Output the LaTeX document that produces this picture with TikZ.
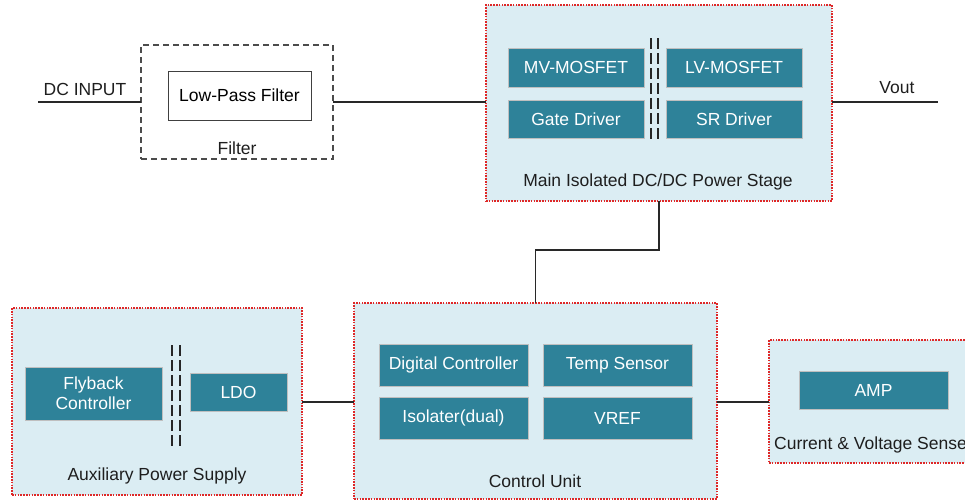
\documentclass[tikz,border=0pt]{standalone}
\usepackage{fontspec}
\setmainfont{Liberation Sans}
\definecolor{blockteal}{RGB}{46,130,153}
\definecolor{panelblue}{RGB}{219,237,243}
\definecolor{panelred}{RGB}{222,40,40}
\definecolor{wire}{RGB}{40,40,40}
\definecolor{labelgray}{RGB}{30,30,30}
\tikzset{
  panel/.style={draw=panelred, fill=panelblue, line width=1.3pt,
    dash pattern=on 1.6pt off 1.2pt, inner sep=0pt, outer sep=0pt},
  block/.style={draw=black!25, fill=blockteal, text=white, line width=0.8pt,
    inner sep=0pt, outer sep=0pt, align=center,
    font=\fontsize{17.5}{20}\selectfont},
  plainbox/.style={draw=black!75, fill=white, line width=1pt,
    inner sep=0pt, outer sep=0pt, font=\fontsize{17.5}{20}\selectfont},
  groupbox/.style={draw=black!70, line width=1.1pt, dash pattern=on 6pt off 4pt,
    inner sep=0pt, outer sep=0pt},
  caption/.style={text=labelgray, inner sep=0pt, font=\fontsize{17.5}{20}\selectfont},
  wirestyle/.style={draw=wire, line width=1.6pt},
  barrier/.style={draw=black!85, line width=1.8pt, dash pattern=on 11pt off 4pt}
}
\begin{document}
\begin{tikzpicture}[x=1pt, y=-1pt]
\useasboundingbox (0,0) rectangle (965,501);
\clip (0,0) rectangle (965,501);

% input filter
\node[groupbox, minimum width=192pt, minimum height=114pt] (filter) at (237,102) {};
\node[plainbox, minimum width=143pt, minimum height=49pt] (lpf) at (239.5,95.5) {Low-Pass Filter};
\node[caption] (filtercap) at (237,148) {Filter};

% main isolated power stage
\node[panel, minimum width=346pt, minimum height=196pt] (main) at (659,103) {};
\node[block, minimum width=136pt, minimum height=39pt] (mv) at (576,67.5) {MV-MOSFET};
\node[block, minimum width=136pt, minimum height=39pt] (lv) at (734,67.5) {LV-MOSFET};
\node[block, minimum width=136pt, minimum height=38pt] (gd) at (576,119) {Gate Driver};
\node[block, minimum width=136pt, minimum height=38pt] (sr) at (734,119) {SR Driver};
\coordinate (mbA1) at (651,38); \coordinate (mbA2) at (651,139);
\coordinate (mbB1) at (658,38); \coordinate (mbB2) at (658,139);
\draw[barrier] (mbA1) -- (mbA2);
\draw[barrier] (mbB1) -- (mbB2);
\node[caption] (maincap) at (658,182) {Main Isolated DC/DC Power Stage};

% auxiliary supply
\node[panel, minimum width=290pt, minimum height=187pt] (aux) at (157,401.5) {};
\node[block, minimum width=137pt, minimum height=53pt] (fly) at (93.5,393.5) {Flyback\\Controller};
\node[block, minimum width=97pt, minimum height=38pt] (ldo) at (238.5,392) {LDO};
\coordinate (abA1) at (172,345); \coordinate (abA2) at (172,447);
\coordinate (abB1) at (180,345); \coordinate (abB2) at (180,447);
\draw[barrier] (abA1) -- (abA2);
\draw[barrier] (abB1) -- (abB2);
\node[caption] (auxcap) at (157,476) {Auxiliary Power Supply};

% control unit
\node[panel, minimum width=363pt, minimum height=196pt] (ctrl) at (535.5,401) {};
\node[block, minimum width=149pt, minimum height=42pt] (dig) at (453.5,365) {Digital Controller};
\node[block, minimum width=149pt, minimum height=42pt] (temp) at (617.5,365) {Temp Sensor};
\node[block, minimum width=149pt, minimum height=42pt] (iso) at (453.5,418) {Isolater(dual)};
\node[block, minimum width=149pt, minimum height=42pt] (vref) at (617.5,418) {VREF};
\node[caption] (ctrlcap) at (535,481) {Control Unit};

% current and voltage sensing
\node[panel, minimum width=231pt, minimum height=123pt] (sense) at (884.5,401.5) {};
\node[block, minimum width=149pt, minimum height=38pt] (amp) at (873.5,390) {AMP};
\node[caption, anchor=west] (sensecap) at (774,445) {Current \& Voltage Sense};

% terminals
\coordinate (din) at (38,102);
\coordinate (vout) at (938,102);
\node[caption] (dinlabel) at (85,89) {DC INPUT};
\node[caption] (voutlabel) at (897,88) {Vout};

% wiring
\draw[wirestyle] (din) -- (filter.west);
\draw[wirestyle] (filter.east) -- (filter.east -| main.west);
\draw[wirestyle] (main.east |- vout) -- (vout);
\draw[wirestyle] (main.south) -- ++(0,49) -| (ctrl.north);
\draw[wirestyle] (aux.east |- 0,402) -- (ctrl.west |- 0,402);
\draw[wirestyle] (ctrl.east |- 0,402) -- (sense.west |- 0,402);
\end{tikzpicture}
\end{document}
